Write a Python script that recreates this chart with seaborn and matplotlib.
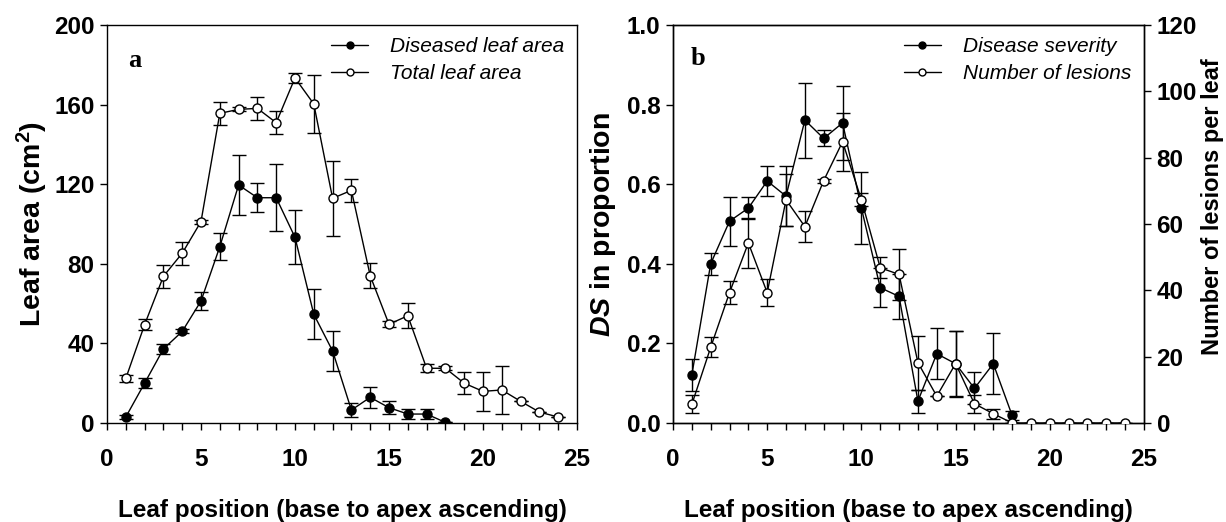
import numpy as np
import pandas as pd
import matplotlib
matplotlib.use("Agg")
import matplotlib.pyplot as plt
from matplotlib.lines import Line2D
import seaborn as sns

# ---- data ----
pos_dis = list(range(1, 19))
diseased_area = [3, 20, 37.2, 46, 61.3, 88.6, 119.6, 113.2, 113.2, 93.3, 54.6, 36.2, 6.5, 12.9, 7.7, 4.5, 4.5, 0.3]
diseased_err = [1, 2.5, 2.7, 1, 4.4, 6.8, 15, 7.4, 16.7, 13.5, 12.6, 10, 3.4, 5.4, 3.4, 2.3, 2.5, 0]

pos_tot = list(range(1, 25))
total_area = [22.4, 49.4, 73.7, 85.3, 101.2, 155.6, 157.6, 158.1, 150.9, 173.4, 160.3, 112.9,
              116.9, 74, 49.6, 53.9, 27.5, 27.5, 20, 15.9, 16.6, 10.9, 5.5, 3]
total_err = [1.9, 2.9, 5.9, 5.7, 1, 5.8, 1, 5.7, 5.7, 2.5, 14.6, 18.8,
             5.6, 6.3, 1.5, 6.3, 2, 1, 5.6, 9.8, 12.2, 0, 0, 0]

pos_ds = list(range(1, 19))
disease_severity = [0.121, 0.40, 0.507, 0.540, 0.608, 0.570, 0.761, 0.715, 0.754, 0.540,
                    0.340, 0.318, 0.055, 0.174, 0.149, 0.087, 0.149, 0.019]
severity_err = [0.04, 0.027, 0.062, 0.028, 0.037, 0.075, 0.094, 0.02, 0.092, 0.09,
                0.049, 0.056, 0.029, 0.064, 0.083, 0.04, 0.077, 0.012]

pos_les = list(range(1, 25))
lesions = [5.6, 22.8, 39.3, 54.3, 39.3, 67.3, 59.2, 73.1, 84.8, 67.3, 46.8, 44.8,
           18.2, 8.1, 17.9, 5.8, 2.8, 0, 0, 0, 0, 0, 0, 0]
lesions_err = [2.7, 3, 3.4, 7.5, 4, 7.9, 4.6, 0.6, 8.7, 2, 3.2, 7.7,
               8.1, 0, 9.9, 2.7, 1.5, 0, 0, 0, 0, 0, 0, 0]

xlabel = "Leaf position (base to apex ascending)"

sns.set_theme(style="ticks")
plt.rcParams.update({
    "font.family": ["Liberation Sans", "DejaVu Sans"],
    "font.weight": "bold",
    "mathtext.fontset": "custom",
    "mathtext.rm": "Liberation Sans:bold",
    "mathtext.bf": "Liberation Sans:bold",
    "mathtext.it": "Liberation Sans:italic:bold",
    "mathtext.bfit": "Liberation Sans:italic:bold",
    "axes.linewidth": 1.0,
    "axes.edgecolor": "black",
    "text.color": "black",
    "axes.labelcolor": "black",
    "xtick.color": "black",
    "ytick.color": "black",
})

fig = plt.figure(figsize=(12.26, 5.22), dpi=100)
ax1 = fig.add_axes([107/1226, 1-423/522, 470/1226, 398/522])
ax2 = fig.add_axes([673/1226, 1-423/522, 471/1226, 398/522])
ax3 = ax2.twinx()

TICK_FS = 17.5
XLAB_FS = 17.5
YLAB_FS = 20.5
ms = 6.5

def style_x(ax):
    ax.set_xlim(0, 25)
    ax.set_xticks(np.arange(0, 26, 5))
    ax.set_xticks(np.arange(0, 26, 1), minor=True)
    ax.tick_params(axis="x", which="both", direction="out", length=5, width=1,
                   labelsize=TICK_FS, pad=13, colors="black")
    ax.set_xlabel(xlabel, fontsize=XLAB_FS, fontweight="bold", labelpad=20)
    for lab in ax.get_xticklabels():
        lab.set_fontweight("bold")

def draw(ax, x, y, err, filled, z=3):
    df = pd.DataFrame({"x": x, "y": y})
    ax.errorbar(x, y, yerr=err, fmt="none", ecolor="black", elinewidth=1,
                capsize=5, capthick=1, zorder=z - 1)
    sns.lineplot(data=df, x="x", y="y", ax=ax, color="black", linewidth=1,
                 marker="o", markersize=ms,
                 markerfacecolor="black" if filled else "white",
                 markeredgecolor="black", markeredgewidth=1, zorder=z,
                 legend=False)

leg_kw = dict(loc="upper right", frameon=False,
              prop={"style": "italic", "weight": "normal", "size": 15},
              handlelength=1.8, borderaxespad=0.2, labelspacing=0.38, handletextpad=1.05)

def handles():
    return [Line2D([], [], color="black", lw=1, marker="o", ms=5, mfc="black", mec="black"),
            Line2D([], [], color="black", lw=1, marker="o", ms=5, mfc="white", mec="black")]

# ---- panel a ----
draw(ax1, pos_dis, diseased_area, diseased_err, True, z=4)
draw(ax1, pos_tot, total_area, total_err, False, z=3)
style_x(ax1)
ax1.set_ylim(0, 200)
ax1.set_yticks(np.arange(0, 201, 40))
ax1.tick_params(axis="y", direction="out", length=5, width=1, labelsize=TICK_FS, pad=4)
for lab in ax1.get_yticklabels():
    lab.set_fontweight("bold")
ax1.set_ylabel(r"Leaf area (cm$^{2}$)", fontsize=YLAB_FS, fontweight="bold", labelpad=3)
ax1.text(0.045, 0.895, "a", transform=ax1.transAxes, fontsize=19, fontweight="bold",
         family="Liberation Serif")
ax1.legend(handles(), ["Diseased leaf area", "Total leaf area"], **leg_kw)

# ---- panel b ----
draw(ax2, pos_ds, disease_severity, severity_err, True, z=4)
draw(ax3, pos_les, lesions, lesions_err, False, z=3)
style_x(ax2)
ax2.set_ylim(0, 1.0)
ax2.set_yticks(np.round(np.arange(0, 1.01, 0.2), 1))
ax2.set_yticklabels([f"{v:.1f}" for v in np.arange(0, 1.01, 0.2)])
ax2.tick_params(axis="y", direction="out", length=5, width=1, labelsize=TICK_FS, pad=4)
for lab in ax2.get_yticklabels():
    lab.set_fontweight("bold")
ax2.set_ylabel(r"$\mathbfit{DS}$ in proportion", fontsize=YLAB_FS, fontweight="bold", labelpad=6)
ax3.set_ylim(0, 120)
ax3.set_yticks(np.arange(0, 121, 20))
ax3.tick_params(axis="y", direction="out", length=5, width=1, labelsize=TICK_FS, pad=4)
for lab in ax3.get_yticklabels():
    lab.set_fontweight("bold")
ax3.set_ylabel("Number of lesions per leaf", fontsize=17, fontweight="bold")
ax3.yaxis.set_label_coords(1.12, 0.543)
ax3.set_xlim(0, 25)
ax2.text(0.038, 0.9, "b", transform=ax2.transAxes, fontsize=19, fontweight="bold",
         family="Liberation Serif")
ax3.legend(handles(), ["Disease severity", "Number of lesions"], **leg_kw)

for ax in (ax1, ax2, ax3):
    for s in ax.spines.values():
        s.set_visible(True)
        s.set_color("black")
        s.set_linewidth(1)

fig.savefig("out.png", dpi=100)
